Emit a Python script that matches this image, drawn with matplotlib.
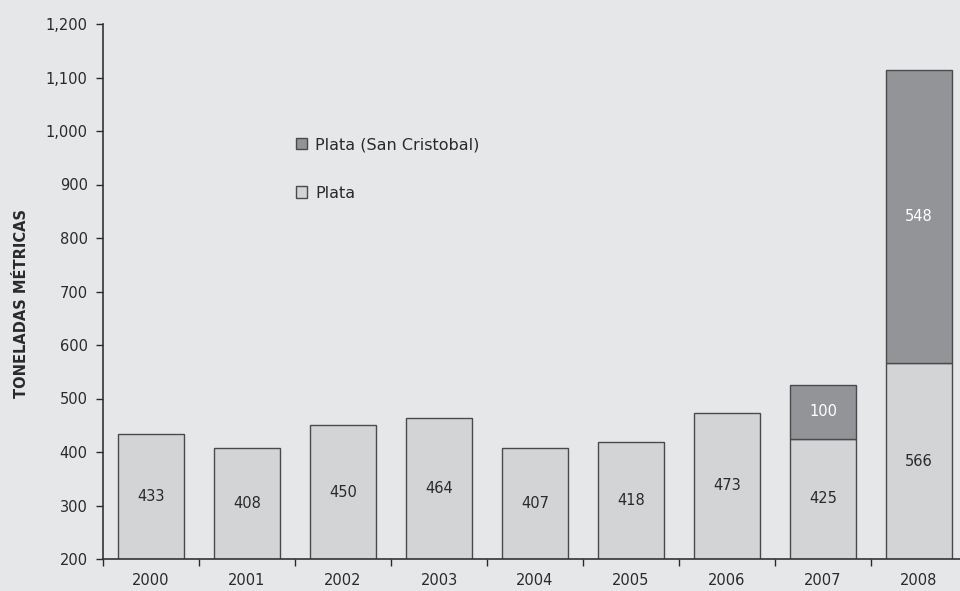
import matplotlib.pyplot as plt
import numpy as np

years = ['2000', '2001', '2002', '2003', '2004', '2005', '2006', '2007', '2008']
plata = [433, 408, 450, 464, 407, 418, 473, 425, 566]
san_cristobal = [0, 0, 0, 0, 0, 0, 0, 100, 548]

bg = '#e6e7e9'
light = '#d3d4d6'
dark = '#939498'
edge = '#4a4a4a'
txt = '#2a2a2a'

plt.rcParams['font.family'] = 'DejaVu Sans'

fig = plt.figure(figsize=(9.6, 5.91), dpi=100, facecolor=bg)
ax = fig.add_axes([103 / 960, 32 / 591, 864 / 960, 535 / 591])
ax.set_facecolor(bg)

x = np.arange(len(years))
w = 0.68
b1 = ax.bar(x, plata, width=w, bottom=0, color=light, edgecolor=edge, linewidth=1.0,
            label='Plata', zorder=2)
sc = np.array(san_cristobal)
mask = sc > 0
b2 = ax.bar(x[mask], sc[mask], width=w, bottom=np.array(plata)[mask], color=dark,
            edgecolor=edge, linewidth=1.0, label='Plata (San Cristobal)', zorder=2)

ax.set_ylim(200, 1200)
ax.set_xlim(-0.5, len(years) - 0.5)

# value labels centred in the visible part of each segment
for xi, v in zip(x, plata):
    ax.text(xi, (200 + v) / 2, str(v), ha='center', va='center', fontsize=10.5, color=txt, zorder=3)
for xi, v, base in zip(x[mask], sc[mask], np.array(plata)[mask]):
    ax.text(xi, base + v / 2, str(v), ha='center', va='center', fontsize=10.5, color='white', zorder=3)

ax.set_yticks(range(200, 1201, 100))
ax.set_yticklabels([f'{v:,}' for v in range(200, 1201, 100)])
ax.set_xticks(x)
ax.set_xticklabels(years)
ax.set_xticks(np.arange(-0.5, len(years)), minor=True)
ax.tick_params(axis='x', which='major', length=0, pad=10, labelsize=10.5, labelcolor=txt)
ax.tick_params(axis='x', which='minor', length=5, width=1, color=txt, direction='out')
ax.tick_params(axis='y', length=5, width=1, color=txt, labelsize=10.5, labelcolor=txt, pad=6)

for s in ['top', 'right']:
    ax.spines[s].set_visible(False)
for s in ['left', 'bottom']:
    ax.spines[s].set_color('#333333')
    ax.spines[s].set_linewidth(1.2)

fig.text(22 / 960, 1 - 303 / 591, 'TONELADAS MÉTRICAS', rotation=90, ha='center', va='center',
         fontsize=10.5, fontweight='bold', color=txt)

ax.legend(handles=[b2, b1], labels=['Plata (San Cristobal)', 'Plata'],
          loc='upper left', bbox_to_anchor=(296 / 960, 1 - 137 / 591),
          bbox_transform=fig.transFigure, frameon=False, fontsize=11.5,
          borderpad=0, borderaxespad=0,
          handlelength=0.7, handleheight=0.7, handletextpad=0.5, labelspacing=2.1,
          labelcolor=txt)

fig.savefig('out.png', dpi=100, facecolor=bg)
